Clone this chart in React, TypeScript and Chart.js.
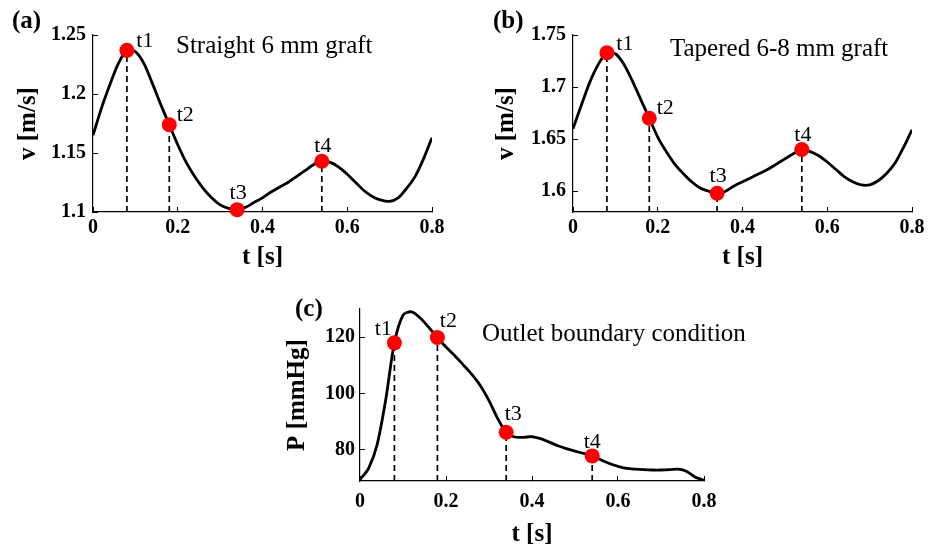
import React, { useEffect, useRef } from "react";
import { Chart, registerables } from "chart.js";

Chart.register(...registerables);

// ---------------- data ----------------
const timeS = [
  0, 0.02, 0.04, 0.06, 0.08, 0.1, 0.12, 0.14, 0.16, 0.18, 0.2, 0.22, 0.24, 0.26,
  0.28, 0.3, 0.32, 0.34, 0.36, 0.38, 0.4, 0.42, 0.44, 0.46, 0.48, 0.5, 0.52,
  0.54, 0.56, 0.58, 0.6, 0.62, 0.64, 0.66, 0.68, 0.7, 0.72, 0.74, 0.76, 0.78, 0.8,
];

const velocityStraight = [
  1.165, 1.188, 1.208, 1.226, 1.237, 1.236, 1.226, 1.209, 1.191, 1.174, 1.157,
  1.142, 1.13, 1.12, 1.112, 1.106, 1.103, 1.102, 1.104, 1.108, 1.112, 1.117,
  1.121, 1.125, 1.13, 1.135, 1.14, 1.143, 1.142, 1.138, 1.132, 1.125, 1.118,
  1.113, 1.11, 1.109, 1.112, 1.12, 1.13, 1.145, 1.163,
];

const velocityTapered = [
  1.66, 1.683, 1.705, 1.722, 1.733, 1.732, 1.722, 1.706, 1.688, 1.67, 1.652,
  1.638, 1.626, 1.617, 1.609, 1.603, 1.6, 1.598, 1.6, 1.605, 1.609, 1.613,
  1.617, 1.621, 1.626, 1.631, 1.636, 1.64, 1.638, 1.634, 1.628, 1.621, 1.614,
  1.609, 1.606, 1.606, 1.61, 1.617, 1.627, 1.642, 1.659,
];

const pressureOutlet = [
  69.5, 73.5, 82, 98, 118, 127.8, 129, 126.8, 123.5, 119.9, 116.5, 113.5, 110.2,
  106.8, 102.8, 97.5, 91.2, 86.3, 84.6, 84.5, 84.7, 84.0, 82.8, 81.5, 80.5,
  79.6, 78.8, 77.9, 76.5, 75.2, 74.2, 73.5, 73.2, 73.0, 72.9, 72.9, 73.0, 73.2,
  72.4, 70.3, 69.3,
];

const markerTimes = [0.08, 0.18, 0.34, 0.54];
const markerLabels = ["t1", "t2", "t3", "t4"];

const xTicks = [0, 0.2, 0.4, 0.6, 0.8];
const yTicksStraight = [1.1, 1.15, 1.2, 1.25];
const yTicksTapered = [1.6, 1.65, 1.7, 1.75];
const yTicksPressure = [80, 100, 120];

// ---------------- styling / layout ----------------
const FONT = '"Liberation Serif", "Times New Roman", Times, serif';

type PanelCfg = {
  canvas: { left: number; top: number; width: number; height: number };
  area: { left: number; top: number; right: number; bottom: number };
  series: number[];
  yMin: number;
  yMax: number;
  yTicks: number[];
  yTitle: string;
  panelLabel: string;
  panelLabelPos: [number, number];
  note: string;
  notePos: [number, number];
  labelOffsets: [number, number][];
  yTitlePad: number;
  xTitlePad: number;
  xTickPad: number;
  yTickPad: number;
};

const offsetsAB: [number, number][] = [
  [18, -3],
  [16, -4],
  [1, -11],
  [1, -9],
];
const offsetsC: [number, number][] = [
  [-11, -8],
  [11, -10],
  [7, -12],
  [0, -8],
];

const panels: PanelCfg[] = [
  {
    canvas: { left: 0, top: 0, width: 467, height: 275 },
    area: { left: 93, top: 35, right: 432, bottom: 212 },
    series: velocityStraight,
    yMin: 1.1,
    yMax: 1.25,
    yTicks: yTicksStraight,
    yTitle: "v [m/s]",
    panelLabel: "(a)",
    panelLabelPos: [12, 28],
    note: "Straight 6 mm graft",
    notePos: [176, 53],
    labelOffsets: offsetsAB,
    yTitlePad: 14,
    xTitlePad: 2,
    xTickPad: 9,
    yTickPad: 12,
  },
  {
    canvas: { left: 467, top: 0, width: 467, height: 275 },
    area: { left: 573, top: 35, right: 912, bottom: 212 },
    series: velocityTapered,
    yMin: 1.58,
    yMax: 1.75,
    yTicks: yTicksTapered,
    yTitle: "v [m/s]",
    panelLabel: "(b)",
    panelLabelPos: [493, 28],
    note: "Tapered 6-8 mm graft",
    notePos: [670, 56],
    labelOffsets: offsetsAB,
    yTitlePad: 25,
    xTitlePad: 2,
    xTickPad: 9,
    yTickPad: 12,
  },
  {
    canvas: { left: 270, top: 285, width: 480, height: 268 },
    area: { left: 360, top: 309, right: 704, bottom: 481 },
    series: pressureOutlet,
    yMin: 69,
    yMax: 130,
    yTicks: yTicksPressure,
    yTitle: "P [mmHg]",
    panelLabel: "(c)",
    panelLabelPos: [295, 316],
    note: "Outlet boundary condition",
    notePos: [482, 341],
    labelOffsets: offsetsC,
    yTitlePad: 13,
    xTitlePad: 3,
    xTickPad: 14,
    yTickPad: 10,
  },
];

const fmt = (v: number) => String(parseFloat(Number(v).toFixed(3)));

function PanelChart({ cfg }: { cfg: PanelCfg }) {
  const ref = useRef<HTMLCanvasElement | null>(null);

  useEffect(() => {
    const canvas = ref.current;
    if (!canvas) return;
    const { canvas: cv, area } = cfg;
    const markerValues = markerTimes.map((t) => cfg.series[timeS.indexOf(t)]);
    const yAxisWidth = area.left - cv.left;
    const xAxisHeight = cv.top + cv.height - area.bottom;

    const curve = timeS.map((t, i) => ({ x: t, y: cfg.series[i] }));
    const markers = markerTimes.map((t, i) => ({ x: t, y: markerValues[i] }));
    const dashSets = markerTimes.map((t, i) => ({
      type: "line" as const,
      data: [
        { x: t, y: cfg.yMin },
        { x: t, y: markerValues[i] },
      ],
      borderColor: "#000",
      borderWidth: 1.7,
      borderDash: [6, 4],
      pointRadius: 0,
      tension: 0,
      order: 3,
    }));

    const textPlugin = {
      id: "panelText",
      afterDatasetsDraw(chart: any) {
        const ctx = chart.ctx as CanvasRenderingContext2D;
        const ox = cv.left;
        const oy = cv.top;
        ctx.save();
        ctx.fillStyle = "#000";
        ctx.textBaseline = "alphabetic";
        ctx.textAlign = "left";
        ctx.font = `bold 25px ${FONT}`;
        ctx.fillText(cfg.panelLabel, cfg.panelLabelPos[0] - ox, cfg.panelLabelPos[1] - oy);
        ctx.font = `25px ${FONT}`;
        ctx.fillText(cfg.note, cfg.notePos[0] - ox, cfg.notePos[1] - oy);
        ctx.font = `22px ${FONT}`;
        ctx.textAlign = "center";
        const xs = chart.scales.x;
        const ys = chart.scales.y;
        markerTimes.forEach((t, i) => {
          const px = xs.getPixelForValue(t);
          const py = ys.getPixelForValue(markerValues[i]);
          const [dx, dy] = cfg.labelOffsets[i];
          ctx.fillText(markerLabels[i], px + dx, py + dy);
        });
        ctx.restore();
      },
    };

    const chart = new Chart(canvas, {
      type: "line",
      data: {
        datasets: [
          {
            data: markers,
            showLine: false,
            pointRadius: 7.5,
            pointHoverRadius: 7.5,
            pointBackgroundColor: "#ff0000",
            pointBorderWidth: 0,
            borderColor: "#ff0000",
            clip: false as any,
            order: 1,
          },
          {
            data: curve,
            borderColor: "#000",
            borderWidth: 2.8,
            pointRadius: 0,
            tension: 0.3,
            order: 2,
          },
          ...dashSets,
        ] as any,
      },
      options: {
        responsive: false,
        animation: false,
        events: [],
        layout: {
          padding: {
            left: 0,
            top: area.top - cv.top,
            right: cv.left + cv.width - area.right,
            bottom: 0,
          },
        },
        plugins: {
          legend: { display: false },
          tooltip: { enabled: false },
          title: { display: false },
        },
        scales: {
          x: {
            type: "linear",
            position: "bottom",
            min: 0,
            max: 0.8,
            afterBuildTicks: (s: any) => {
              s.ticks = xTicks.map((v) => ({ value: v }));
            },
            afterFit: (s: any) => {
              s.height = xAxisHeight;
            },
            ticks: {
              color: "#000",
              font: { family: FONT, size: 20, weight: "bold" },
              padding: cfg.xTickPad,
              maxRotation: 0,
              autoSkip: false,
              callback: (v: any) => fmt(v),
            },
            grid: {
              drawOnChartArea: false,
              drawTicks: true,
              tickLength: -5,
              color: "#000",
              lineWidth: 1,
            },
            border: { display: true, color: "#000", width: 1.2 },
            title: {
              display: true,
              text: "t [s]",
              color: "#000",
              font: { family: FONT, size: 25, weight: "bold" },
              padding: { top: 0, bottom: cfg.xTitlePad },
            },
          },
          y: {
            type: "linear",
            position: "left",
            min: cfg.yMin,
            max: cfg.yMax,
            afterBuildTicks: (s: any) => {
              s.ticks = cfg.yTicks.map((v) => ({ value: v }));
            },
            afterFit: (s: any) => {
              s.width = yAxisWidth;
            },
            ticks: {
              color: "#000",
              font: { family: FONT, size: 20, weight: "bold" },
              padding: cfg.yTickPad,
              autoSkip: false,
              callback: (v: any) => fmt(v),
            },
            grid: {
              drawOnChartArea: false,
              drawTicks: true,
              tickLength: -5,
              color: "#000",
              lineWidth: 1,
            },
            border: { display: true, color: "#000", width: 1.2 },
            title: {
              display: true,
              text: cfg.yTitle,
              color: "#000",
              font: { family: FONT, size: 25, weight: "bold" },
              padding: { top: cfg.yTitlePad, bottom: 0 },
            },
          },
        },
      } as any,
      plugins: [textPlugin],
    });

    return () => chart.destroy();
  }, [cfg]);

  return (
    <canvas
      ref={ref}
      width={cfg.canvas.width}
      height={cfg.canvas.height}
      style={{
        position: "absolute",
        left: cfg.canvas.left,
        top: cfg.canvas.top,
        width: cfg.canvas.width,
        height: cfg.canvas.height,
      }}
    />
  );
}

export default function App() {
  return (
    <div
      style={{
        position: "absolute",
        left: 0,
        top: 0,
        width: 934,
        height: 544,
        overflow: "hidden",
        background: "#fff",
      }}
    >
      {panels.map((p, i) => (
        <PanelChart key={i} cfg={p} />
      ))}
    </div>
  );
}
